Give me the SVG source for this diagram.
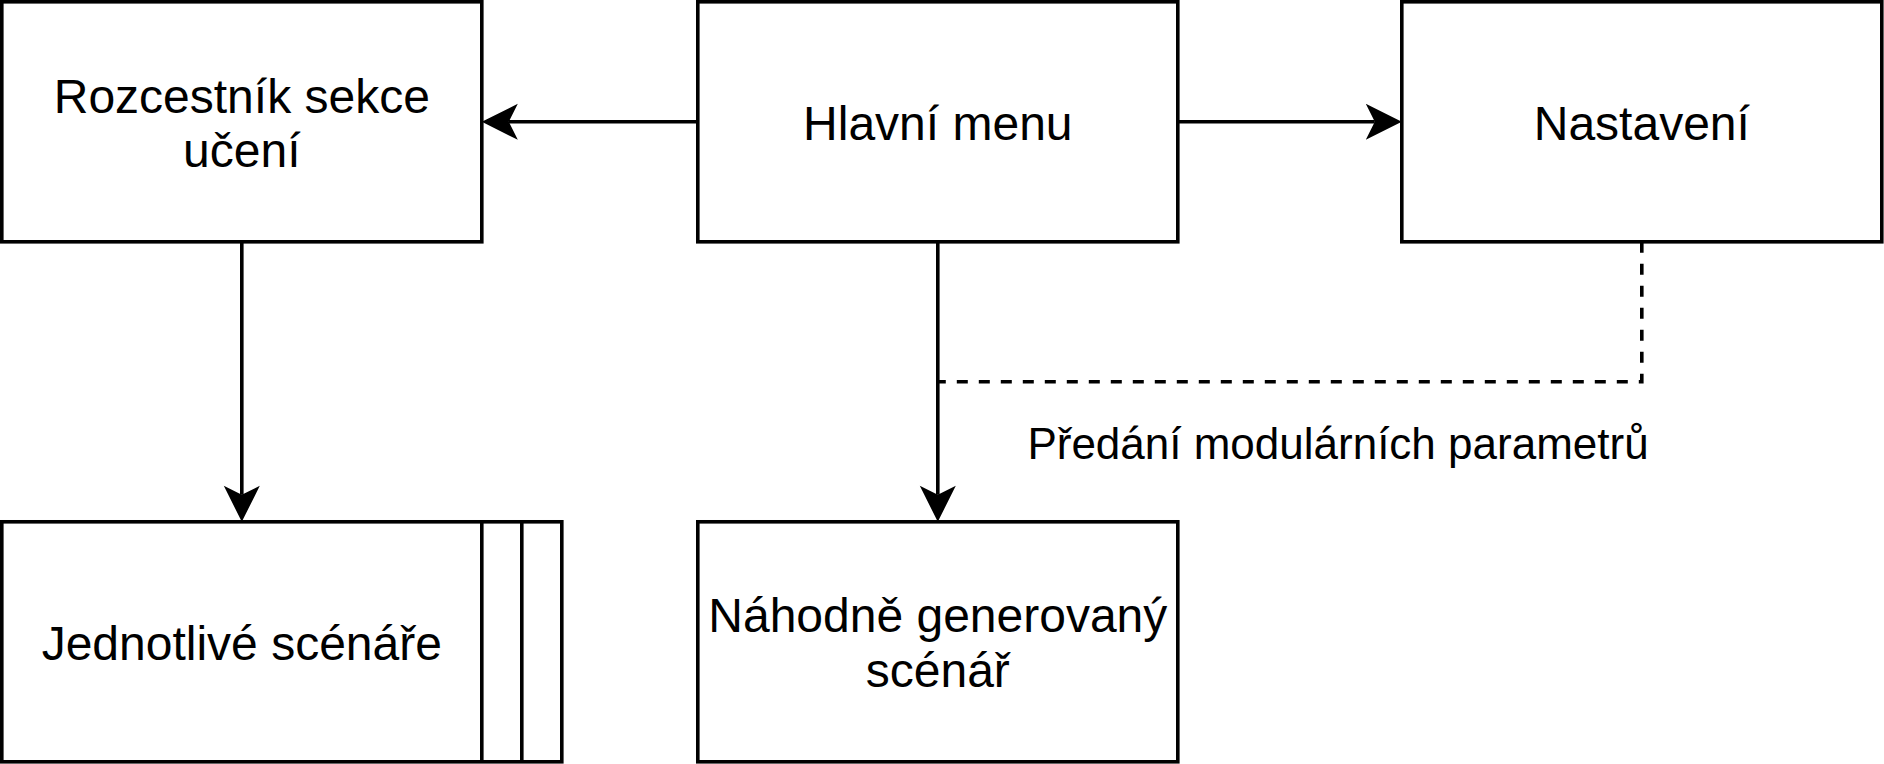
<svg xmlns="http://www.w3.org/2000/svg" width="1884" height="764" viewBox="0 0 1884 764">
<style>
.box{fill:#ffffff;stroke:#000000;stroke-width:3.6}
.ln{fill:none;stroke:#000000;stroke-width:3.6}
.edge{fill:none;stroke:#000000;stroke-width:3.6}
.dash{fill:none;stroke:#000000;stroke-width:3.6;stroke-dasharray:11 11}
.t{font-family:"Liberation Sans",Arial,Helvetica,sans-serif;font-size:48px;fill:#000000;text-anchor:middle}
.lbl{font-family:"Liberation Sans",Arial,Helvetica,sans-serif;font-size:44px;fill:#000000;text-anchor:middle}
</style>
<defs>
<marker id="arr" viewBox="-10 -19 38 38" markerWidth="38" markerHeight="38" refX="0" refY="0" orient="auto" markerUnits="userSpaceOnUse">
<path d="M27,0 L-9,-18 L0,0 L-9,18 Z" fill="#000000" stroke="none"/>
</marker>
</defs>
<rect width="1884" height="764" fill="#ffffff"/>
<g id="connectors">
<line class="edge" x1="697.8" y1="121.8" x2="508.8" y2="121.8" marker-end="url(#arr)"/>
<line class="edge" x1="1177.8" y1="121.8" x2="1374.8" y2="121.8" marker-end="url(#arr)"/>
<line class="edge" x1="241.8" y1="241.8" x2="241.8" y2="494.8" marker-end="url(#arr)"/>
<line class="edge" x1="937.8" y1="241.8" x2="937.8" y2="494.8" marker-end="url(#arr)"/>
<path class="dash" d="M1641.8,241.8 L1641.8,381.8 L937.8,381.8"/>
<text class="lbl" x="1338" y="459">Předání modulárních parametrů</text>
</g>
<g id="node-rozcestnik">
<rect class="box" x="1.8" y="1.8" width="480" height="240"/>
<text class="t" x="241.8" y="112.5">Rozcestník sekce</text>
<text class="t" x="241.8" y="167">učení</text>
</g>
<g id="node-hlavni-menu">
<rect class="box" x="697.8" y="1.8" width="480" height="240"/>
<text class="t" x="937.8" y="139.5">Hlavní menu</text>
</g>
<g id="node-nastaveni">
<rect class="box" x="1401.8" y="1.8" width="480" height="240"/>
<text class="t" x="1641.8" y="139.5">Nastavení</text>
</g>
<g id="node-jednotlive">
<rect class="box" x="1.8" y="521.8" width="560" height="240"/>
<line class="ln" x1="481.8" y1="521.8" x2="481.8" y2="761.8"/>
<line class="ln" x1="521.8" y1="521.8" x2="521.8" y2="761.8"/>
<text class="t" x="241.8" y="659.5">Jednotlivé scénáře</text>
</g>
<g id="node-nahodne">
<rect class="box" x="697.8" y="521.8" width="480" height="240"/>
<text class="t" x="937.8" y="632">Náhodně generovaný</text>
<text class="t" x="937.8" y="687">scénář</text>
</g>
</svg>
